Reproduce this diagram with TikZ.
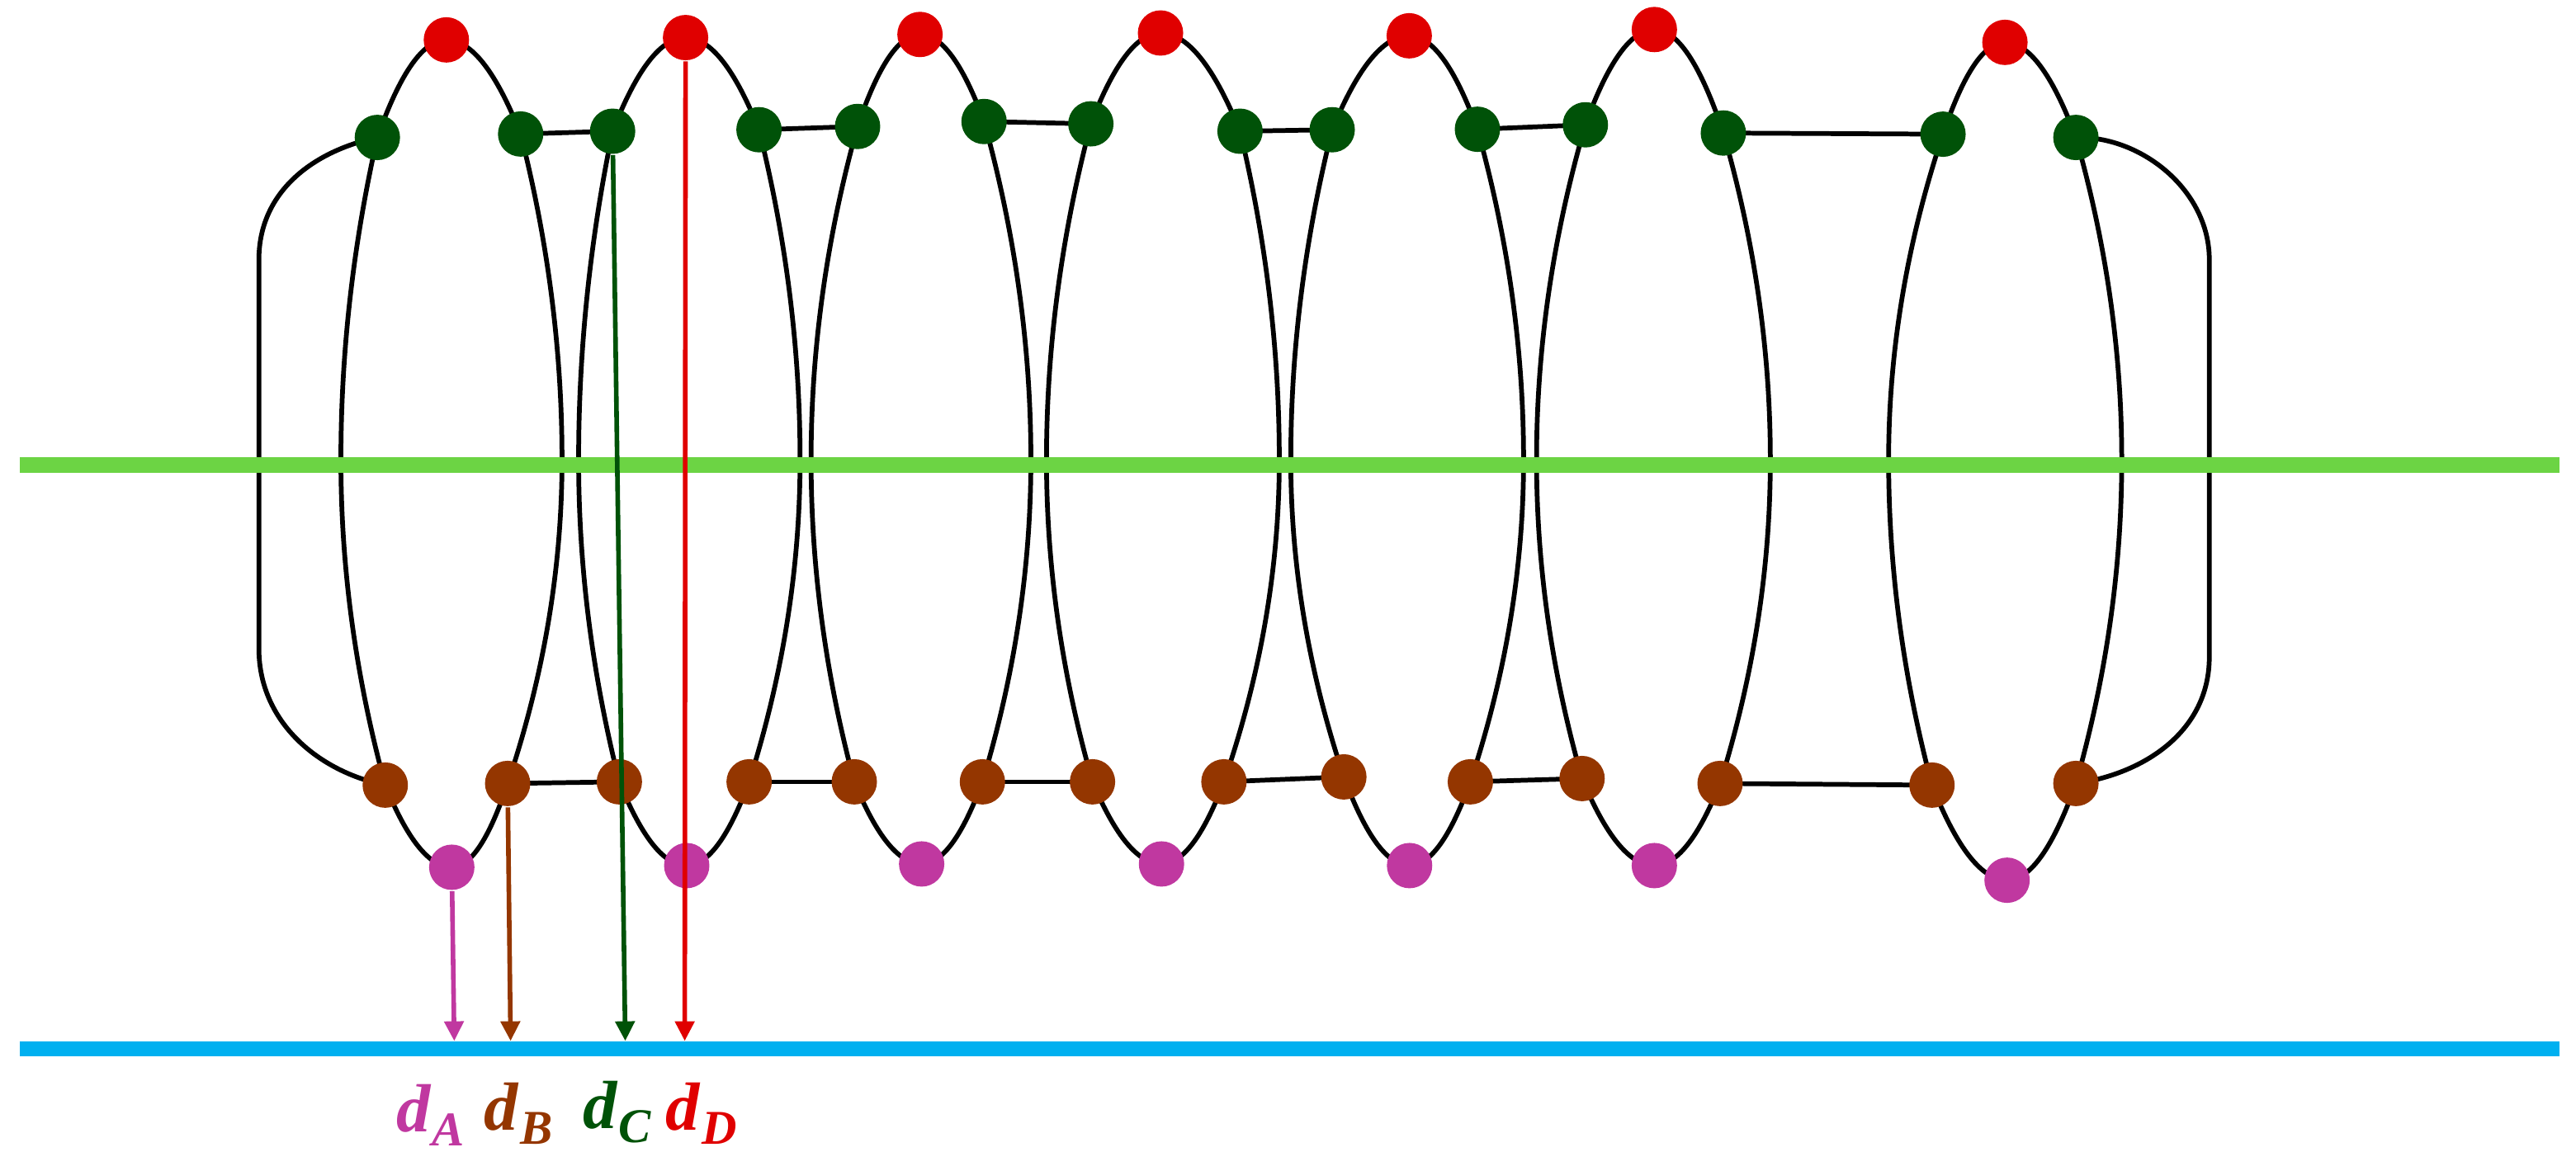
\documentclass[tikz,border=0pt]{standalone}
\usepackage{fontspec}
\newfontfamily\labfont{Liberation Serif}
\usetikzlibrary{arrows.meta,calc}
\pgfdeclarelayer{background}
\pgfsetlayers{background,main}
\definecolor{cRed}{RGB}{224,0,0}
\definecolor{cDG}{RGB}{0,82,8}
\definecolor{cBr}{RGB}{148,54,0}
\definecolor{cMg}{RGB}{192,56,160}
\definecolor{cLG}{RGB}{108,212,68}
\definecolor{cBl}{RGB}{0,176,240}
\tikzset{
  dot/.style={circle,inner sep=0pt,minimum size=0.276cm,draw=none},
  rdot/.style={dot,fill=cRed},
  gdot/.style={dot,fill=cDG},
  bdot/.style={dot,fill=cBr},
  mdot/.style={dot,fill=cMg},
  loopline/.style={black,line width=0.82pt},
  bar/.style={line width=2.65pt},
  darrow/.style={line width=0.8pt,-{Triangle[length=0.12cm,width=0.115cm]}},
  dlabel/.style={anchor=base,inner sep=0pt}
}
\newcommand\drawloop[1]{%
\draw[loopline] let \p1=(R#1.center), \p2=(GR#1.center), \p3=(MR#1), \p4=(BR#1.center),
  \p5=(P#1.center), \p6=(BL#1.center), \p7=(ML#1), \p8=(GL#1.center) in
 (\p1) .. controls ({\x1+(\x2-\x1)/3},\y1) and ({\x2+(\x1-\x2)/3},{\y2+2*(\y1-\y2)/3}) .. (\p2)
 .. controls ({\x2+2*(\x3-\x2)/3},{\y2+(\y3-\y2)/3}) and (\x3,{\y3+(\y2-\y3)/3}) .. (\p3)
 .. controls (\x3,{\y3+(\y4-\y3)/3}) and ({\x4+2*(\x3-\x4)/3},{\y4+(\y3-\y4)/3}) .. (\p4)
 .. controls ({\x4+(\x5-\x4)/3},{\y4+2*(\y5-\y4)/3}) and ({\x5+(\x4-\x5)/3},\y5) .. (\p5)
 .. controls ({\x5+(\x6-\x5)/3},\y5) and ({\x6+(\x5-\x6)/3},{\y6+2*(\y5-\y6)/3}) .. (\p6)
 .. controls ({\x6+2*(\x7-\x6)/3},{\y6+(\y7-\y6)/3}) and (\x7,{\y7+(\y6-\y7)/3}) .. (\p7)
 .. controls (\x7,{\y7+(\y8-\y7)/3}) and ({\x8+2*(\x7-\x8)/3},{\y8+(\y7-\y8)/3}) .. (\p8)
 .. controls ({\x8+(\x1-\x8)/3},{\y8+2*(\y1-\y8)/3}) and ({\x1+(\x8-\x1)/3},\y1) .. (\p1) -- cycle;%
}
\newcommand\dlab[1]{{\labfont\bfseries\itshape\fontsize{11.8}{13}\selectfont d\kern0.3pt\raisebox{-2.4pt}{\fontsize{8.4}{9}\selectfont #1}}}
\begin{document}
\begin{tikzpicture}[x=0.01cm,y=-0.01cm]
\useasboundingbox (0,0) rectangle (1568,701);
% labels
\node[dlabel,cMg] (lA) at (262,689) {\dlab{A}};
\node[dlabel,cBr] (lB) at (315.5,688) {\dlab{B}};
\node[dlabel,cDG] (lC) at (375.5,687) {\dlab{C}};
\node[dlabel,cRed] (lD) at (427,688) {\dlab{D}};
% loop 1
\node[rdot] (R1) at (271.7,24.3) {};
\node[gdot] (GL1) at (229.7,83.7) {};
\node[gdot] (GR1) at (316.9,81.6) {};
\node[bdot] (BL1) at (234.5,478) {};
\node[bdot] (BR1) at (309,477) {};
\node[mdot] (P1) at (275,528) {};
\coordinate (ML1) at (207.5,280); \coordinate (MR1) at (342.1,280);
% loop 2
\node[rdot] (R2) at (417.3,22.9) {};
\node[gdot] (GL2) at (372.9,79.9) {};
\node[gdot] (GR2) at (462,79) {};
\node[bdot] (BL2) at (377,476) {};
\node[bdot] (BR2) at (456,476) {};
\node[mdot] (P2) at (418,527) {};
\coordinate (ML2) at (352.2,280); \coordinate (MR2) at (487,280);
% loop 3
\node[rdot] (R3) at (560,21) {};
\node[gdot] (GL3) at (522,77) {};
\node[gdot] (GR3) at (599,74) {};
\node[bdot] (BL3) at (520,476) {};
\node[bdot] (BR3) at (598,476) {};
\node[mdot] (P3) at (561,526) {};
\coordinate (ML3) at (493.7,280); \coordinate (MR3) at (627.5,280);
% loop 4
\node[rdot] (R4) at (706.4,20.1) {};
\node[gdot] (GL4) at (664,75.4) {};
\node[gdot] (GR4) at (754.8,79.9) {};
\node[bdot] (BL4) at (665,476) {};
\node[bdot] (BR4) at (745,476) {};
\node[mdot] (P4) at (707,526) {};
\coordinate (ML4) at (637,280); \coordinate (MR4) at (778.7,280);
% loop 5
\node[rdot] (R5) at (857.8,21.8) {};
\node[gdot] (GL5) at (810.9,79) {};
\node[gdot] (GR5) at (899.3,78.7) {};
\node[bdot] (BL5) at (818,473) {};
\node[bdot] (BR5) at (895,476) {};
\node[mdot] (P5) at (858,527) {};
\coordinate (ML5) at (785.7,280); \coordinate (MR5) at (927.4,280);
% loop 6
\node[rdot] (R6) at (1007,18) {};
\node[gdot] (GL6) at (965,76) {};
\node[gdot] (GR6) at (1049,81) {};
\node[bdot] (BL6) at (963,474) {};
\node[bdot] (BR6) at (1047,477) {};
\node[mdot] (P6) at (1007,527) {};
\coordinate (ML6) at (935.3,280); \coordinate (MR6) at (1077.6,280);
% loop 7
\node[rdot] (R7) at (1220.4,25.8) {};
\node[gdot] (GL7) at (1182.7,81.7) {};
\node[gdot] (GR7) at (1263.6,83.7) {};
\node[bdot] (BL7) at (1176,478) {};
\node[bdot] (BR7) at (1263.6,477) {};
\node[mdot] (P7) at (1221.7,535.9) {};
\coordinate (ML7) at (1149.6,280); \coordinate (MR7) at (1291.5,280);
% outer points
\coordinate (OLt) at (157.6,158); \coordinate (OLb) at (157.6,395);
\coordinate (ORt) at (1344.8,158); \coordinate (ORb) at (1344.8,400);
\begin{pgfonlayer}{background}
\drawloop{1}\drawloop{2}\drawloop{3}\drawloop{4}\drawloop{5}\drawloop{6}\drawloop{7}
\draw[loopline] (GR1.center) -- (GL2.center);
\draw[loopline] (GR2.center) -- (GL3.center);
\draw[loopline] (GR3.center) -- (GL4.center);
\draw[loopline] (GR4.center) -- (GL5.center);
\draw[loopline] (GR5.center) -- (GL6.center);
\draw[loopline] (GR6.center) -- (GL7.center);
\draw[loopline] (BR1.center) -- (BL2.center);
\draw[loopline] (BR2.center) -- (BL3.center);
\draw[loopline] (BR3.center) -- (BL4.center);
\draw[loopline] (BR4.center) -- (BL5.center);
\draw[loopline] (BR5.center) -- (BL6.center);
\draw[loopline] (BR6.center) -- (BL7.center);
\draw[loopline] (GL1.center) .. controls +(-38,8) and +(0,-42) .. (OLt) -- (OLb)
   .. controls +(0,45) and +(-40,-8) .. (BL1.center);
\draw[loopline] (GR7.center) .. controls +(40,-1) and +(0,-42) .. (ORt) -- (ORb)
   .. controls +(0,45) and +(42,-6) .. (BR7.center);
\end{pgfonlayer}
% bars
\coordinate (gl0) at (12,283); \coordinate (gl1) at (1558,283);
\coordinate (bl0) at (12,638.5); \coordinate (bl1) at (1558,638.5);
\draw[bar,cLG] (gl0) -- (gl1);
\draw[bar,cBl] (bl0) -- (bl1);
% arrows
\coordinate (eA) at (276.5,633.8);
\coordinate (eB) at (310.8,633.8);
\coordinate (eC) at (380.6,633.8);
\coordinate (eD) at (416.8,633.8);
\draw[darrow,cMg] (P1) -- (eA);
\draw[darrow,cBr] (BR1) -- (eB);
\draw[darrow,cDG] (GL2) -- (eC);
\draw[darrow,cRed] (R2) -- (eD);
\end{tikzpicture}
\end{document}
